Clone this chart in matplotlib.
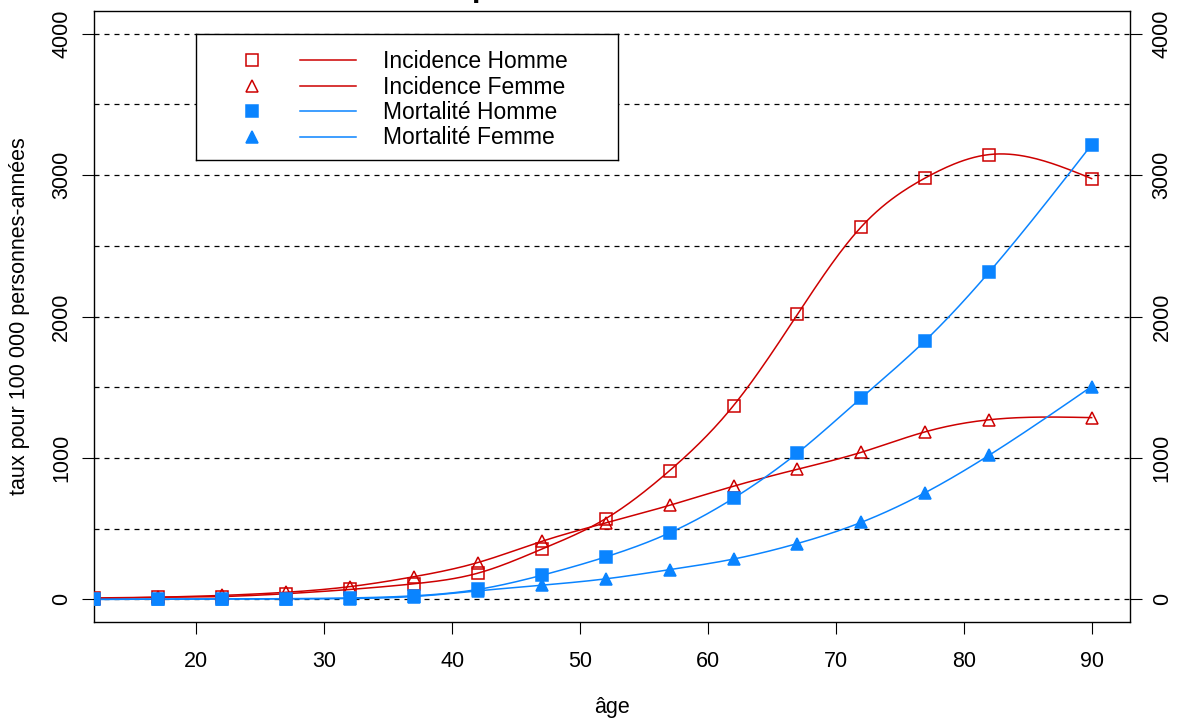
import numpy as np
import matplotlib
matplotlib.use("Agg")
import matplotlib.pyplot as plt

# données
age = [12, 17, 22, 27, 32, 37, 42, 47, 52, 57, 62, 67, 72, 77, 82, 90]
inc_homme = [10, 15, 20, 40, 70, 110, 185, 355, 570, 910, 1370, 2015, 2635, 2980, 3145, 2975]
inc_femme = [5, 15, 28, 50, 90, 160, 260, 410, 540, 665, 800, 920, 1040, 1185, 1270, 1285]
mort_homme = [0, 2, 3, 5, 10, 25, 70, 170, 300, 470, 715, 1035, 1425, 1830, 2315, 3215]
mort_femme = [0, 1, 2, 3, 6, 20, 60, 100, 145, 210, 285, 395, 545, 755, 1020, 1505]

rouge = "#CD0000"
bleu = "#0A84FF"


# spline cubique naturelle pour tracer la courbe lissée
def spline(x, y, xs):
    x = np.asarray(x, float)
    y = np.asarray(y, float)
    n = len(x)
    h = np.diff(x)
    A = np.zeros((n, n))
    b = np.zeros(n)
    A[0, 0] = A[-1, -1] = 1
    for i in range(1, n - 1):
        A[i, i - 1] = h[i - 1]
        A[i, i] = 2 * (h[i - 1] + h[i])
        A[i, i + 1] = h[i]
        b[i] = 3 * ((y[i + 1] - y[i]) / h[i] - (y[i] - y[i - 1]) / h[i - 1])
    c = np.linalg.solve(A, b)
    k = np.clip(np.searchsorted(x, xs) - 1, 0, n - 2)
    dx = xs - x[k]
    bb = (y[k + 1] - y[k]) / h[k] - h[k] * (2 * c[k] + c[k + 1]) / 3
    d = (c[k + 1] - c[k]) / (3 * h[k])
    return y[k] + bb * dx + c[k] * dx ** 2 + d * dx ** 3


plt.rcParams['font.family'] = ['Liberation Sans', 'DejaVu Sans']

fig = plt.figure(figsize=(11.77, 7.2), dpi=100)
ax = fig.add_axes([94 / 1177, 98 / 720, 1036 / 1177, 611 / 720])

for v in range(0, 4001, 500):
    ax.axhline(v, color="black", lw=0.9, ls=(0, (4, 4)), zorder=1)

xs = np.linspace(12, 90, 400)
series = [
    (inc_homme, rouge, "s", "none", "Incidence Homme"),
    (inc_femme, rouge, "^", "none", "Incidence Femme"),
    (mort_homme, bleu, "s", bleu, "Mortalité Homme"),
    (mort_femme, bleu, "^", bleu, "Mortalité Femme"),
]
for vals, col, mk, fc, lab in series:
    ax.plot(xs, spline(age, vals, xs), color=col, lw=1.1, zorder=2)
    ax.plot(age, vals, ls="none", marker=mk, mfc=fc, mec=col, ms=8.5 if fc == "none" else 9,
            mew=1.1, zorder=3)

ax.set_xlim(12, 93)
ax.set_ylim(-160, 4160)
ax.set_xticks(range(20, 91, 10))
ax.set_yticks(range(0, 4001, 1000))
ax.tick_params(axis="both", direction="out", length=8.6, labelsize=15.5)
ax.tick_params(axis="x", pad=12)
ax.tick_params(axis="y", right=True, labelright=True, pad=7)
for lab in ax.get_yticklabels(which="both"):
    lab.set_rotation(90)
    lab.set_va("center")
for s in ax.spines.values():
    s.set_linewidth(1.0)

ax.set_xlabel("âge", fontsize=15.5, labelpad=18)
ax.set_ylabel("taux pour 100 000 personnes-années", fontsize=15.5, labelpad=15)

# titre, coupé en haut comme sur l'original
fig.text(0.51, 1 + 4 / 720, "pour l'année 1990", ha="center", va="baseline",
         fontsize=22, fontweight="bold")

# légende à la façon de R : symbole, trait, texte
lx0, ly0 = 196 / 1177, 1 - 160 / 720
lax = fig.add_axes([lx0, ly0, 422 / 1177, 126 / 720])
lax.set_xlim(0, 422)
lax.set_ylim(126, 0)
lax.set_xticks([])
lax.set_yticks([])
for s in lax.spines.values():
    s.set_linewidth(1.0)
for i, (vals, col, mk, fc, lab) in enumerate(series):
    y = 26 + i * 25.5
    lax.plot([56], [y], marker=mk, mfc=fc, mec=col, ms=8, mew=1.1, ls="none")
    lax.plot([104, 160], [y, y], color=col, lw=1.1)
    lax.text(187, y + 1.5, lab, fontsize=16.5, va="center", ha="left")

fig.savefig("out.png", dpi=100)
